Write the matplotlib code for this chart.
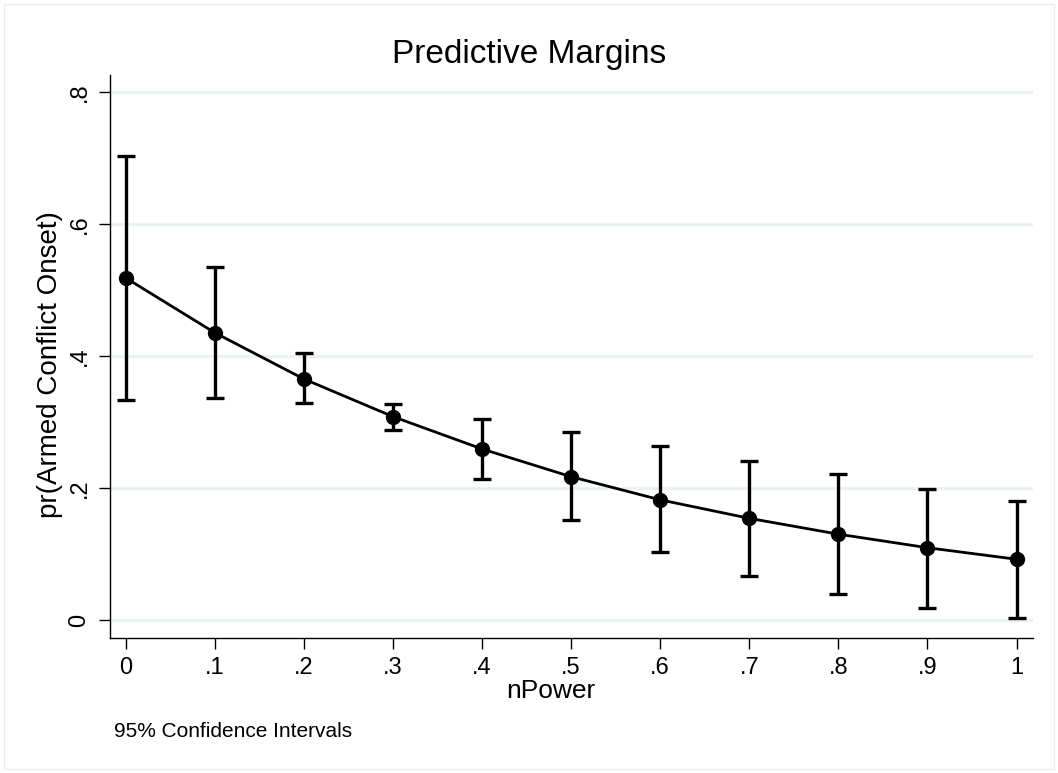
import matplotlib
matplotlib.use('Agg')
import matplotlib.pyplot as plt
from matplotlib.patches import Rectangle

plt.rcParams['font.family'] = ['Liberation Sans', 'DejaVu Sans']

# predictive margins
npower = [0, 0.1, 0.2, 0.3, 0.4, 0.5, 0.6, 0.7, 0.8, 0.9, 1.0]
margin = [0.518, 0.435, 0.365, 0.308, 0.259, 0.217, 0.182, 0.154, 0.130, 0.1095, 0.092]
ci_low = [0.333, 0.336, 0.328, 0.287, 0.213, 0.151, 0.1025, 0.0666, 0.039, 0.0187, 0.0025]
ci_high = [0.703, 0.534, 0.405, 0.327, 0.305, 0.284, 0.263, 0.241, 0.2206, 0.199, 0.180]

xticks = [0, 0.1, 0.2, 0.3, 0.4, 0.5, 0.6, 0.7, 0.8, 0.9, 1.0]
xtick_labels = ['0', '.1', '.2', '.3', '.4', '.5', '.6', '.7', '.8', '.9', '1']
yticks = [0, 0.2, 0.4, 0.6, 0.8]
ytick_labels = ['0', '.2', '.4', '.6', '.8']

fig = plt.figure(figsize=(10.58, 7.73), dpi=100)
ax = fig.add_axes([0.104, 0.175, 0.8724, 0.728])

# light frame around the whole graph
fig.patches.append(Rectangle((4 / 1058, 4 / 773), 1 - 8 / 1058, 1 - 8 / 773,
                             transform=fig.transFigure, fill=False,
                             edgecolor='#e6eef0', linewidth=1))

yerr = [[m - lo for m, lo in zip(margin, ci_low)],
        [hi - m for m, hi in zip(margin, ci_high)]]
ax.errorbar(npower, margin, yerr=yerr, fmt='none', ecolor='black',
            elinewidth=2.4, capsize=6.5, capthick=2.4, zorder=3)
ax.plot(npower, margin, color='black', linewidth=2.0, marker='o',
        markersize=10, zorder=4)

ax.set_xlim(-0.0176, 1.0185)
ax.set_ylim(-0.0268, 0.8253)

ax.set_xticks(xticks)
ax.set_xticklabels(xtick_labels)
ax.set_yticks(yticks)
ax.set_yticklabels(ytick_labels, rotation=90, va='center')

ax.grid(axis='y', color='#eaf2f3', linewidth=2.2)
ax.set_axisbelow(True)
for side in ['top', 'right']:
    ax.spines[side].set_visible(False)
for side in ['left', 'bottom']:
    ax.spines[side].set_linewidth(1.0)

ax.tick_params(axis='both', direction='out', length=8, width=1.0,
               labelsize=17, color='black')
ax.tick_params(axis='x', pad=6)
ax.tick_params(axis='y', pad=6)

ax.set_xlabel('nPower', fontsize=19)
ax.xaxis.set_label_coords(0.478, -0.074)
ax.set_ylabel('pr(Armed Conflict Onset)', fontsize=20)
ax.yaxis.set_label_coords(-0.051, 0.485)

fig.text(0.5, 0.918, 'Predictive Margins', ha='center', va='baseline', fontsize=24)
fig.text(114 / 1058, 1 - 737 / 773, '95% Confidence Intervals',
         ha='left', va='baseline', fontsize=15)

fig.savefig('out.png', dpi=100, facecolor='white')
